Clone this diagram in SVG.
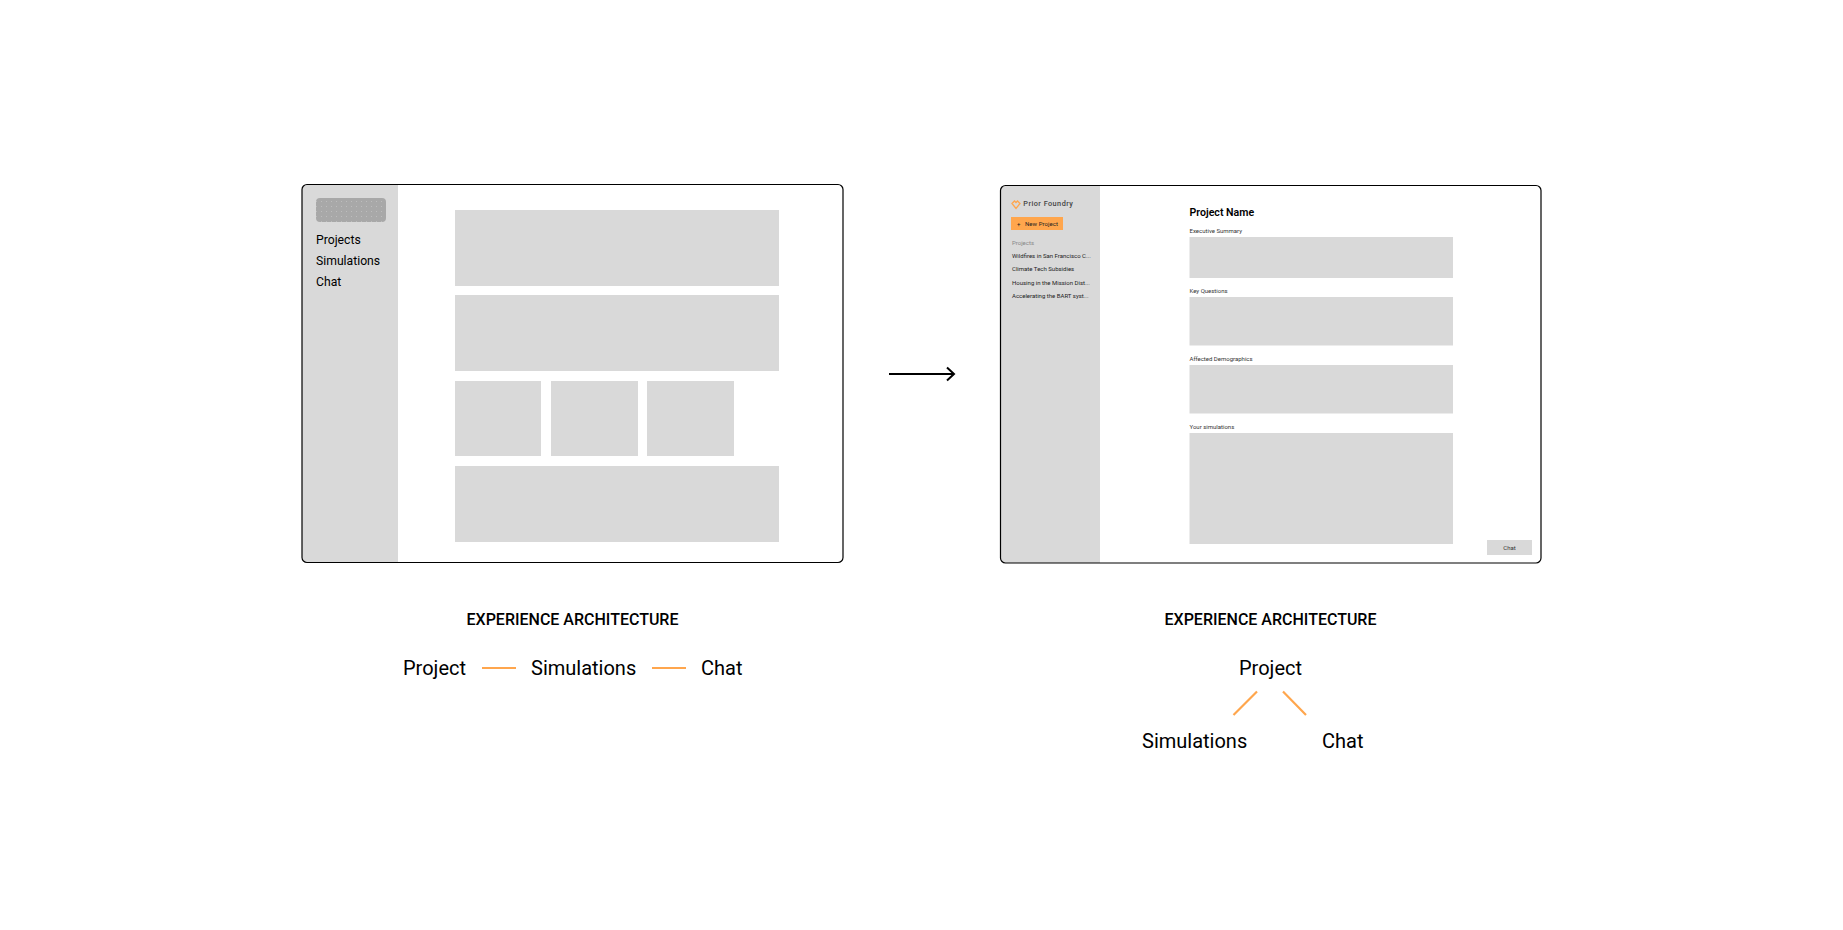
<svg xmlns="http://www.w3.org/2000/svg" width="1843" height="930" viewBox="0 0 1843 930">
<style>
text{font-family:Roboto,"Liberation Sans",sans-serif;fill:#000}
.g{fill:#d9d9d9}
.frame{fill:none;stroke:#000;stroke-width:1.2}
.nav{font-size:12.2px}
.big{font-size:20px}
.head{font-size:16px;font-weight:500;text-anchor:middle}
.lab{font-size:6px;fill:#333}
.side{font-size:6px;fill:#222}
.or{stroke:#ffa64d;stroke-width:2.2;fill:none}
</style>
<defs>
<pattern id="dots" width="5" height="5" patternUnits="userSpaceOnUse"><rect width="5" height="5" fill="#a8a8a8"/><rect x="1" y="1" width="1" height="1" fill="#bdbdbd"/></pattern>
<clipPath id="c1"><rect x="302" y="184.5" width="541" height="378" rx="5"/></clipPath>
<clipPath id="c2"><rect x="1000.5" y="185.5" width="540.5" height="377.5" rx="5"/></clipPath>
</defs>
<rect width="1843" height="930" fill="#fff"/>
<g id="wireframe-before">
<rect class="g" x="302" y="184.5" width="96" height="378" clip-path="url(#c1)"/>
<rect x="316" y="198" width="70" height="24" rx="4" fill="url(#dots)"/>
<text class="nav" x="316" y="244">Projects</text>
<text class="nav" x="316" y="265">Simulations</text>
<text class="nav" x="316" y="286">Chat</text>
<rect class="g" x="455" y="210" width="324" height="76"/>
<rect class="g" x="455" y="295" width="324" height="76"/>
<rect class="g" x="455" y="381" width="86" height="75"/>
<rect class="g" x="551" y="381" width="87" height="75"/>
<rect class="g" x="647" y="381" width="87" height="75"/>
<rect class="g" x="455" y="466" width="324" height="76"/>
<rect class="frame" x="302" y="184.5" width="541" height="378" rx="5"/>
</g>
<g id="wireframe-after">
<rect class="g" x="1000.5" y="185.500" width="99.500" height="377.500" clip-path="url(#c2)"/>
<path d="M1012 203.500l2.500-2.500 1.500 1.500 1.500-1.500 2.500 2.500-4 5z" fill="none" stroke="#ffa64d" stroke-width="1.300"/>
<text x="1023.300" y="206" font-size="7.300" font-weight="500" letter-spacing=".45" style="fill:#444">Prior Foundry</text>
<rect x="1011" y="217" width="52" height="13" fill="#ffa64d"/>
<text class="side" x="1017" y="225.500">+</text>
<text class="side" x="1025" y="225.500" letter-spacing=".05">New Project</text>
<text class="side" x="1012" y="244.500" style="fill:#888">Projects</text>
<text class="side" x="1012" y="258">Wildfires in San Francisco C...</text>
<text class="side" x="1012" y="271">Climate Tech Subsidies</text>
<text class="side" x="1012" y="285">Housing in the Mission Dist...</text>
<text class="side" x="1012" y="298">Accelerating the BART syst...</text>
<text x="1189.500" y="215.500" font-size="10.600px" font-weight="600">Project Name</text>
<text class="lab" x="1189.500" y="233">Executive Summary</text>
<rect class="g" x="1189.500" y="237" width="263.500" height="41"/>
<text class="lab" x="1189.500" y="293">Key Questions</text>
<rect class="g" x="1189.500" y="297" width="263.500" height="48.500"/>
<text class="lab" x="1189.500" y="361">Affected Demographics</text>
<rect class="g" x="1189.500" y="365" width="263.500" height="48.500"/>
<text class="lab" x="1189.500" y="428.500">Your simulations</text>
<rect class="g" x="1189.500" y="433" width="263.500" height="111"/>
<rect class="g" x="1487" y="540" width="45" height="15"/>
<text class="lab" x="1509.500" y="549.500" text-anchor="middle">Chat</text>
<rect class="frame" x="1000.500" y="185.500" width="540.500" height="377.500" rx="5"/>
</g>
<g id="caption-before">
<text class="head" x="572.500" y="625">EXPERIENCE ARCHITECTURE</text>
<text class="big" x="403" y="675">Project</text>
<text class="big" x="531" y="675">Simulations</text>
<text class="big" x="701" y="675">Chat</text>
</g>
<g id="caption-after">
<text class="head" x="1270.500" y="625">EXPERIENCE ARCHITECTURE</text>
<text class="big" x="1239" y="675">Project</text>
<text class="big" x="1142" y="748">Simulations</text>
<text class="big" x="1322" y="748">Chat</text>
</g>
<g id="connectors">
<path class="or" d="M482 668H516M652 668H686M1257 691.500L1233.500 715M1283 691.500L1306 715"/>
<path d="M889 374H954M947 367.500L954 374L947 380.500" fill="none" stroke="#000" stroke-width="2"/>
</g>
</svg>
